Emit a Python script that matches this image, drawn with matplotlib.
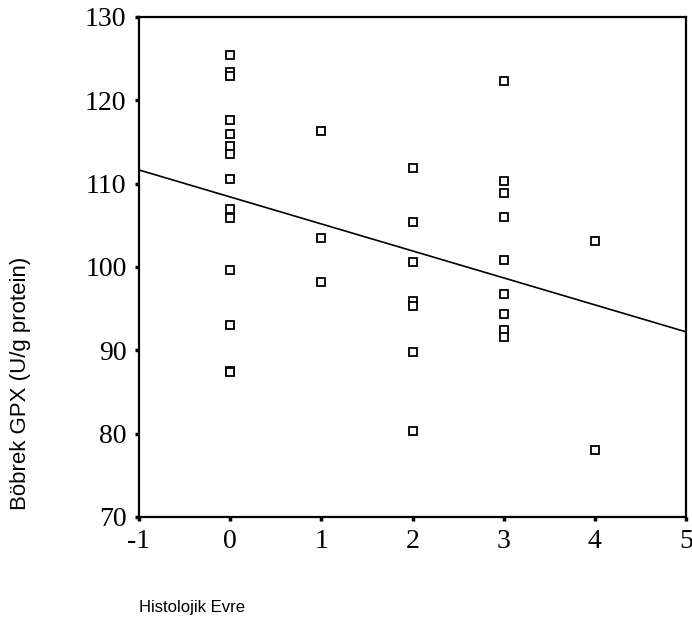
import numpy as np
import matplotlib
matplotlib.use('Agg')
import matplotlib.pyplot as plt

# histological stage and kidney GPX values
evre = [0]*14 + [1]*3 + [2]*7 + [3]*9 + [4]*2
gpx = [125.4, 123.4, 122.9, 117.6, 115.9, 114.5, 113.6, 110.5, 106.9,
       105.9, 99.6, 93.0, 87.5, 87.4,
       116.3, 103.5, 98.2,
       111.9, 105.4, 100.6, 95.9, 95.3, 89.8, 80.3,
       122.3, 110.3, 108.9, 106.0, 100.8, 96.7, 94.3, 92.4, 91.6,
       103.1, 78.0]

x_ticks = [-1, 0, 1, 2, 3, 4, 5]
y_ticks = [70, 80, 90, 100, 110, 120, 130]

fig = plt.figure(figsize=(6.92, 6.28), dpi=100)
ax = fig.add_axes([0.2009, 0.1768, 0.7904, 0.7962])

ax.plot(evre, gpx, 's', markersize=5.5, markerfacecolor='white',
        markeredgecolor='black', markeredgewidth=1.3, linestyle='none')

# linear fit
b, a = np.polyfit(evre, gpx, 1)
xl = np.array([-1, 5])
ax.plot(xl, a + b*xl, color='black', linewidth=1.2)

ax.set_xlim(-1, 5)
ax.set_ylim(70, 130)
ax.set_xticks(x_ticks)
ax.set_yticks(y_ticks)
ax.set_xticklabels([str(v) for v in x_ticks], family='Liberation Serif', fontsize=20)
ax.set_yticklabels([str(v) for v in y_ticks], family='Liberation Serif', fontsize=20)
ax.tick_params(direction='out', length=3, width=2.5, pad=6)
for s in ax.spines.values():
    s.set_linewidth(1.6)

fig.text(0.03, 0.39, 'Böbrek GPX (U/g protein)', rotation=90, ha='center', va='center',
         family='Liberation Sans', fontsize=16)
fig.text(0.2009, 0.032, 'Histolojik Evre', ha='left', va='center',
         family='Liberation Sans', fontsize=12)

fig.savefig('out.png', dpi=100)
